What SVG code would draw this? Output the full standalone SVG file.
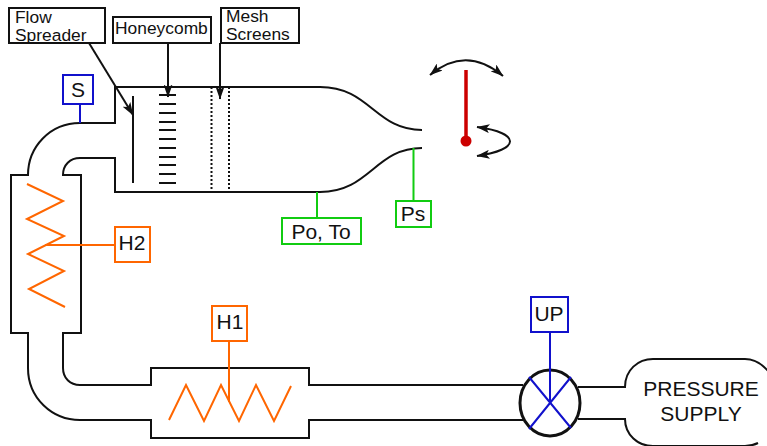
<svg xmlns="http://www.w3.org/2000/svg" width="767" height="446" viewBox="0 0 767 446">
<style>
text{font-family:"Liberation Sans",Arial,sans-serif;fill:#111}
.s{font-size:17.400px}.b{font-size:21px;text-anchor:middle}
.k{fill:none;stroke:#111;stroke-width:2}
.box{fill:#fff;stroke:#111;stroke-width:2}
.o{fill:none;stroke:#f60;stroke-width:2}
.g{fill:none;stroke:#1c1;stroke-width:2}
.u{fill:none;stroke:#11c;stroke-width:2}
.bo{fill:#fff;stroke:#f60;stroke-width:2}
.bg{fill:#fff;stroke:#1c1;stroke-width:2}
.bu{fill:#fff;stroke:#11c;stroke-width:2}
</style>
<defs>
<marker id="a" viewBox="0 0 13 9" refX="12.500" refY="4.500" markerWidth="13" markerHeight="9" markerUnits="userSpaceOnUse" orient="auto-start-reverse"><path d="M0 0L13 4.500L0 9L3 4.500Z" fill="#111"/></marker>
</defs>
<g id="duct">
<path class="k" d="M422 130C375 130 370 87 320 87H115V123H80C50 123 28 147 28 175H11V333H28V368C28 398 52 420 80 420H151V438H309V420H523"/>
<path class="k" d="M422 148C375 148 370 192 320 192H115V158H80C70 158 63 165 63 175H81V333H63V368C63 378 70 385 80 385H151V368H309V385H523"/>
<path class="k" d="M133 96V183M159 95H176M159 104H176M159 113H176M159 122H176M159 130H176M159 139H176M159 148H176M159 157H176M159 165H176M159 174H176M159 183H176"/>
<path class="k" stroke-dasharray="2 2" d="M211.500 87V192M229 87V192"/>
</g>
<g id="connectors">
<path class="k" marker-end="url(#a)" d="M89 43L133 115"/>
<path class="k" marker-end="url(#a)" d="M168 43V97"/>
<path class="k" marker-end="url(#a)" d="M220 43V99"/>
<path class="u" d="M80 104V123"/>
<path class="g" d="M317 192V218M413.500 148V201"/>
<path class="o" d="M45 245H115M229 341V402"/>
</g>
<g id="flow-spreader"><rect class="box" x="9" y="8" width="96" height="35"/><text class="s" x="15" y="23">Flow</text><text class="s" x="15" y="41">Spreader</text></g>
<g id="honeycomb"><rect class="box" x="113" y="17" width="98" height="26"/><text class="s" x="115" y="34">Honeycomb</text></g>
<g id="mesh-screens"><rect class="box" x="221" y="8" width="78" height="35"/><text class="s" x="226" y="22">Mesh</text><text class="s" x="226" y="40">Screens</text></g>
<g id="s"><rect class="bu" x="63" y="75" width="30" height="29"/><text class="b" x="78" y="97">S</text></g>
<g id="po-to"><rect class="bg" x="282" y="218" width="79" height="26"/><text class="b" x="321" y="239">Po, To</text></g>
<g id="ps"><rect class="bg" x="396" y="201" width="35" height="26"/><text class="b" x="413" y="221">Ps</text></g>
<g id="h2"><path class="o" d="M27 184L63 201L27 219L64 236L28 254L64 271L29 289L65 307"/><rect class="bo" x="115" y="227" width="35" height="35"/><text class="b" x="132" y="250">H2</text></g>
<g id="h1"><path class="o" d="M169 420L186 385L204 421L221 385L239 421L256 385L274 421L291 386"/><rect class="bo" x="212" y="306" width="35" height="35"/><text class="b" x="230" y="329">H1</text></g>
<g id="valve"><ellipse cx="550" cy="403" rx="30" ry="33" fill="#fff" stroke="#111" stroke-width="3"/><path class="u" d="M529 377L571 428M571 377L529 429M550 332V403"/></g>
<g id="up"><rect class="bu" x="531" y="297" width="37" height="35"/><text class="b" x="549" y="321">UP</text></g>
<g id="pressure-supply"><path class="k" d="M578 387H625C625 370 638 359 653 359H745C755 359 762 364 768 371M578 419H625C625 435 638 446 653 446H745C750 446 754 445 758 443"/><text class="b" x="701" y="396">PRESSURE</text><text class="b" x="701" y="421">SUPPLY</text></g>
<g id="model"><path d="M466 70V141" fill="none" stroke="#c00" stroke-width="3.500"/><circle cx="466" cy="141" r="5.500" fill="#c00"/>
<path class="k" marker-start="url(#a)" marker-end="url(#a)" d="M430 75Q466 45 503 76"/>
<path class="k" marker-start="url(#a)" marker-end="url(#a)" d="M477 127C522 133 520 150 477 156"/></g>
</svg>
